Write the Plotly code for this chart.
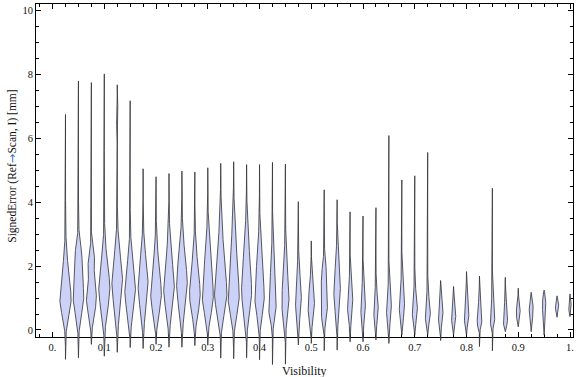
import numpy as np
import plotly.graph_objects as go

# ---- data ----
visibility = [0.025, 0.05, 0.075, 0.1, 0.125, 0.15, 0.175, 0.2, 0.225, 0.25,
              0.275, 0.3, 0.325, 0.35, 0.375, 0.4, 0.425, 0.45, 0.475, 0.5,
              0.525, 0.55, 0.575, 0.6, 0.625, 0.65, 0.675, 0.7, 0.725, 0.75,
              0.775, 0.8, 0.825, 0.85, 0.875, 0.9, 0.925, 0.95, 0.975, 1.0]
err_min = [-0.92, -0.87, -0.45, -0.82, -0.70, -0.55, -0.58, -0.45, -0.54, -0.54,
           -0.49, -0.48, -0.88, -0.90, -0.87, -0.93, -1.08, -1.07, -0.47, -0.42,
           -0.65, -0.63, -0.37, -0.37, -0.31, -0.42, -0.16, -0.16, -0.16, -0.33,
           -0.16, -0.16, -0.52, -0.65, -0.05, 0.10, -0.05, -0.16, 0.40, 0.42]
err_mode = [1.00, 1.10, 1.05, 1.35, 1.55, 1.25, 1.45, 1.15, 1.35, 1.50,
            1.15, 1.10, 1.15, 1.05, 1.25, 1.05, 0.65, 0.85, 1.00, 0.75,
            0.60, 1.20, 0.85, 0.75, 0.65, 0.70, 0.80, 0.65, 0.50, 0.45,
            0.40, 0.40, 0.20, 0.30, 0.28, 0.53, 0.68, 0.80, 0.73, 0.70]
err_max = [6.75, 7.80, 7.75, 8.02, 7.68, 7.18, 5.05, 4.80, 4.90, 4.98,
           4.95, 5.08, 5.22, 5.27, 5.18, 5.18, 5.25, 5.20, 4.02, 2.79,
           4.39, 4.08, 3.70, 3.57, 3.83, 6.09, 4.70, 4.83, 5.56, 1.55,
           1.36, 1.83, 1.69, 4.44, 1.65, 1.31, 1.18, 1.25, 1.07, 1.13]
# peak density, expressed as half-width on the Visibility axis
peak_density = [0.0110, 0.0104, 0.0098, 0.0108, 0.0104, 0.0104, 0.0098, 0.0104, 0.0104, 0.0104,
                0.0104, 0.0108, 0.0120, 0.0108, 0.0098, 0.0092, 0.0072, 0.0072, 0.0059, 0.0064,
                0.0064, 0.0064, 0.0055, 0.0046, 0.0046, 0.0050, 0.0052, 0.0052, 0.0052, 0.0048,
                0.0043, 0.0046, 0.0046, 0.0046, 0.0043, 0.0039, 0.0039, 0.0033, 0.0033, 0.0025]
upper_spread = [0.85, 0.90, 0.50, 0.80, 0.80, 0.80, 0.80, 0.90, 0.90, 0.90,
                0.90, 1.10, 1.25, 1.35, 1.20, 1.10, 1.10, 1.00, 0.70, 0.60,
                0.90, 0.80, 0.50, 0.50, 0.45, 0.45, 0.50, 0.45, 0.45, 0.50,
                0.45, 0.50, 0.50, 0.45, 0.40, 0.30, 0.30, 0.35, 0.20, 0.25]
second_mode = [0, 2.4, 2.2, 0, 6.75, 0, 0, 0, 0, 0,
               0, 0, 0, 0, 0, 0, 0, 0, 0, 0,
               1.7, 0, 0, 0, 0, 0, 0, 0, 0, 0,
               0, 0, 0, 0, 0, 0, 0, 0, 0, 0]
second_density = [0, 0.0030, 0.0055, 0, 0.0032, 0, 0, 0, 0, 0,
                  0, 0, 0, 0, 0, 0, 0, 0, 0, 0,
                  0.0025, 0, 0, 0, 0, 0, 0, 0, 0, 0,
                  0, 0, 0, 0, 0, 0, 0, 0, 0, 0]

x_ticks = [0.0, 0.1, 0.2, 0.3, 0.4, 0.5, 0.6, 0.7, 0.8, 0.9, 1.0]
x_ticktext = ["0.", "0.1", "0.2", "0.3", "0.4", "0.5", "0.6", "0.7", "0.8", "0.9", "1."]
y_ticks = [0, 2, 4, 6, 8, 10]


def half_width(y, lo, m, hi, W, su, m2, w2):
    d = y - m
    sdl = max(min(m, m - lo) / 1.9, 0.12)
    below = W * np.exp(-0.5 * (d / sdl) ** 2)
    above = W * (0.75 * np.exp(-0.5 * (d / su) ** 2) + 0.25 * np.exp(-np.abs(d) / (1.1 * su)))
    w = np.where(d < 0, below, above)
    if w2 > 0:
        w = w + w2 * np.exp(-0.5 * ((y - m2) / 0.3) ** 2)
    t_low = np.clip((y - lo) / max(m - lo, 1e-6), 0, 1)
    t_hi = np.clip((hi - y) / max(hi - m, 1e-6), 0, 1)
    taper = np.where(d < 0, 1 - (1 - t_low) ** 6, 1 - (1 - t_hi) ** 6)
    return w * taper


FILL = "rgb(204,210,247)"
EDGE = "rgba(50,50,55,0.85)"

fig = go.Figure()
# empty trace so that the framed x/y subplot exists
fig.add_trace(go.Scatter(x=[None], y=[None], xaxis="x", yaxis="y",
                         mode="markers", hoverinfo="skip", showlegend=False))
for i, xc in enumerate(visibility):
    lo, m, hi = err_min[i], err_mode[i], err_max[i]
    ys = np.unique(np.concatenate([np.linspace(lo, hi, 400), [m]]))
    w = half_width(ys, lo, m, hi, peak_density[i], upper_spread[i],
                   second_mode[i], second_density[i])
    xs = np.concatenate([xc + w, (xc - w)[::-1]])
    yy = np.concatenate([ys, ys[::-1]])
    fig.add_trace(go.Scatter(
        x=xs, y=yy, mode="lines", fill="toself", fillcolor=FILL,
        line=dict(color=EDGE, width=0.95), xaxis="x", yaxis="y2",
        hoverinfo="skip", showlegend=False))

# frame geometry
y_lo, y_hi = -0.22, 10.21
frame_dom = 0.1072
y2_lo = y_hi - (y_hi - y_lo) / (1 - frame_dom)

TICKFONT = dict(family="Liberation Serif", size=10.5, color="#111111")

fig.update_layout(
    width=576, height=377,
    margin=dict(l=36, r=3, t=4, b=0, autoexpand=False),
    paper_bgcolor="white", plot_bgcolor="rgba(0,0,0,0)",
    showlegend=False,
    xaxis=dict(range=[-0.032, 1.0058], domain=[0, 1], anchor="y", automargin=False,
               tickvals=x_ticks, ticktext=x_ticktext,
               ticks="inside", ticklen=5, tickwidth=1, tickcolor="black",
               minor=dict(dtick=0.025, tick0=0, ticks="inside", ticklen=3,
                          tickwidth=1, tickcolor="black", showgrid=False),
               showline=True, linecolor="black", linewidth=1, mirror="ticks",
               showgrid=False, zeroline=False, tickfont=TICKFONT),
    yaxis=dict(range=[y_lo, y_hi], domain=[frame_dom, 1], anchor="x", automargin=False,
               tickvals=y_ticks, ticks="inside", ticklen=5, tickwidth=1,
               tickcolor="black",
               minor=dict(dtick=0.5, tick0=0, ticks="inside", ticklen=3,
                          tickwidth=1, tickcolor="black", showgrid=False),
               showline=True, linecolor="black", linewidth=1, mirror="ticks",
               showgrid=False, zeroline=False, tickfont=TICKFONT),
    yaxis2=dict(range=[y2_lo, y_hi], domain=[0, 1], anchor="free", position=0,
                automargin=False, visible=False, showgrid=False, zeroline=False),
    annotations=[
        dict(text="Visibility", xref="paper", yref="paper", x=0.4995, y=0.016,
             xanchor="center", yanchor="middle", showarrow=False,
             font=dict(family="Liberation Serif", size=12, color="#111111")),
        dict(text='SignedError (Ref<span style="color:#2f6fd8;font-family:DejaVu Sans">→</span>Scan, I) [mm]',
             xref="paper", yref="paper", x=-0.045, y=0.566, textangle=-90,
             xanchor="center", yanchor="middle", showarrow=False,
             font=dict(family="Liberation Serif", size=11.5, color="#111111")),
    ],
)

fig.write_html("out.html", config={"displayModeBar": False},
               post_script="document.body.style.margin='0';document.body.style.overflow='hidden';")
